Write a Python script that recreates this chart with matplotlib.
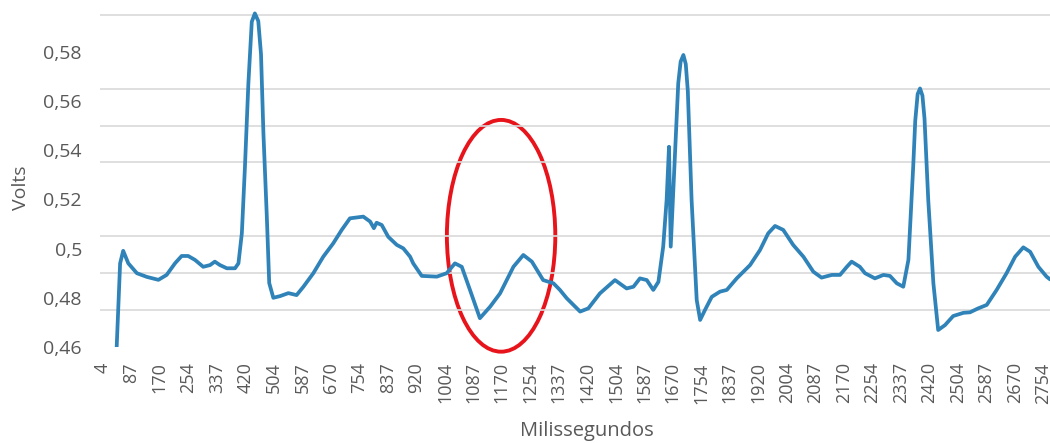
import matplotlib
matplotlib.use("Agg")
import matplotlib.pyplot as plt
from matplotlib.patches import Ellipse
from matplotlib.ticker import FixedLocator

# Time (ms) and voltage
time_ms = [41, 54, 63, 78, 103, 132, 166, 190, 215, 234, 253, 273, 297, 317, 331, 346,
           366, 390, 400, 410, 419, 429, 439, 448, 458, 466, 473, 483, 490, 502, 522, 546,
           570, 590, 619, 648, 677, 702, 726, 765, 785, 796, 804, 819, 838, 863, 882,
           902, 911, 936, 980, 1009, 1033, 1053, 1077, 1106, 1136, 1165, 1204, 1233,
           1258, 1291, 1321, 1340, 1360, 1399, 1423, 1457, 1501, 1535, 1555, 1574,
           1594, 1613, 1628, 1642, 1652, 1659, 1664, 1677, 1686, 1693, 1701, 1708,
           1714, 1725, 1740, 1750, 1764, 1784, 1808, 1828, 1857, 1896, 1925, 1949,
           1969, 1993, 2022, 2052, 2081, 2105, 2135, 2159, 2179, 2193, 2217, 2232,
           2261, 2286, 2305, 2325, 2344, 2359, 2373, 2379, 2386, 2393, 2400, 2406,
           2417, 2432, 2446, 2466, 2490, 2520, 2539, 2563, 2588, 2617, 2646, 2671,
           2695, 2715, 2739, 2763, 2773]
volts = [0.450, 0.494, 0.4991, 0.494, 0.490, 0.4885, 0.4873, 0.4893, 0.4941, 0.497,
         0.497, 0.4954, 0.4926, 0.4933, 0.4947, 0.4933, 0.492, 0.492, 0.494, 0.5063,
         0.5332, 0.567, 0.5922, 0.5956, 0.5925, 0.5790, 0.547, 0.5129, 0.486, 0.480,
         0.4807, 0.4819, 0.4811, 0.4845, 0.490, 0.4967, 0.5021, 0.5076, 0.5123, 0.513,
         0.511, 0.5083, 0.5105, 0.5096, 0.5048, 0.5015, 0.5001, 0.4967, 0.494, 0.4889,
         0.4886, 0.490, 0.494, 0.4926, 0.4832, 0.4717, 0.4764, 0.4818, 0.4926,
         0.4974, 0.4947, 0.4872, 0.4859, 0.4832, 0.4798, 0.4744, 0.4757, 0.4818,
         0.4872, 0.4838, 0.4845, 0.4879, 0.4872, 0.4832, 0.4865, 0.5008, 0.5198,
         0.5414, 0.5008, 0.540, 0.5672, 0.5760, 0.5787, 0.5750, 0.5640, 0.5198,
         0.4791, 0.471, 0.475, 0.4804, 0.4825, 0.4832, 0.4879, 0.4933, 0.4994,
         0.5062, 0.5092, 0.5076, 0.5015, 0.4967, 0.4906, 0.4882, 0.4893, 0.4893,
         0.4926, 0.4947, 0.4926, 0.490, 0.4879, 0.4893, 0.4889, 0.4859, 0.4845,
         0.4954, 0.5333, 0.5520, 0.5628, 0.5651, 0.5622, 0.5530, 0.5198, 0.4859,
         0.4669, 0.4689, 0.4726, 0.4739, 0.4741, 0.4757, 0.4771, 0.4832, 0.490,
         0.4967, 0.5005, 0.4987, 0.4926, 0.4886, 0.4875]

x_ticks = [4, 87, 170, 254, 337, 420, 504, 587, 670, 754, 837, 920, 1004, 1087, 1170,
           1254, 1337, 1420, 1504, 1587, 1670, 1754, 1837, 1920, 2004, 2087, 2170,
           2254, 2337, 2420, 2504, 2587, 2670, 2754]
y_ticks = [0.46, 0.48, 0.50, 0.52, 0.54, 0.56, 0.58]
y_tick_labels = ['0,46', '0,48', '0,5', '0,52', '0,54', '0,56', '0,58']
grid_levels = [0.46, 0.475, 0.49, 0.505, 0.52, 0.535, 0.55, 0.565, 0.58, 0.595]

# highlighted region (centre, width, height)
ring_center = (1168, 0.5052)
ring_size = (317, 0.0942)

plt.rcParams['font.family'] = ['Open Sans', 'DejaVu Sans']
text_grey = '#595959'

fig = plt.figure(figsize=(10.5, 4.43), dpi=100)
ax = fig.add_axes([100 / 1050, 1 - 347 / 443, 950 / 1050, (347 - 11.2) / 443])

ax.plot(time_ms, volts, color='#2f83b8', linewidth=2.7,
        solid_joinstyle='round', solid_capstyle='round')

ax.add_patch(Ellipse(ring_center, ring_size[0], ring_size[1], fill=False,
                     edgecolor='#e8141b', linewidth=2.8, clip_on=False))

ax.set_xlim(-4.8, 2773)
ax.set_ylim(0.46, 0.5965)

ax.set_xticks(x_ticks)
ax.set_xticklabels([str(t) for t in x_ticks], rotation=90, va='top', ha='center')
ax.set_yticks(y_ticks)
ax.set_yticklabels(y_tick_labels)
ax.yaxis.set_minor_locator(FixedLocator(grid_levels))
ax.grid(False)
ax.grid(True, which='minor', axis='y', color='#d9d9d9', linewidth=1.2)
ax.tick_params(axis='y', which='major', length=0, pad=13, labelsize=14, labelcolor=text_grey)
ax.tick_params(axis='x', which='major', length=0, pad=11, labelsize=13, labelcolor=text_grey)
ax.tick_params(which='minor', length=0)

for side in ['top', 'right', 'bottom', 'left']:
    ax.spines[side].set_visible(False)

ax.set_ylabel('Volts', fontsize=14, color=text_grey)
ax.yaxis.set_label_coords(-0.0832, 0.4735)
ax.yaxis.label.set_va('center')
ax.set_xlabel('Milissegundos', fontsize=14.5, color=text_grey)
ax.xaxis.set_label_coords(0.5126, -0.25)
ax.xaxis.label.set_va('center')

fig.savefig('out.png', dpi=100)
